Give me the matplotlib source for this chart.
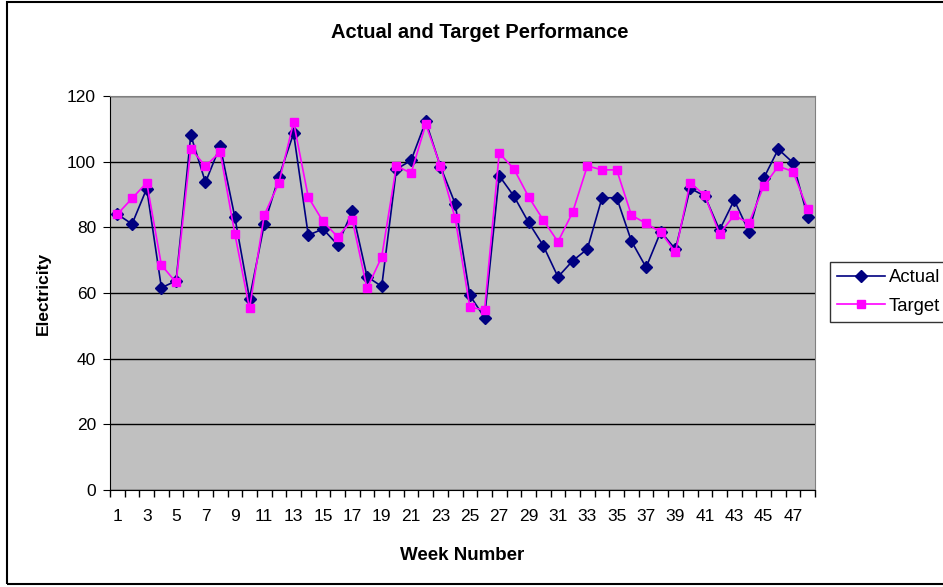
import matplotlib.pyplot as plt
from matplotlib.patches import Rectangle
import numpy as np

plt.rcParams['font.family'] = ['Liberation Sans', 'DejaVu Sans']

weeks = list(range(1, 49))
actual = [84, 81, 91.8, 61.6, 63.7, 108.1, 93.7, 104.8, 83.1, 58.3,
          80.9, 95.4, 108.6, 77.6, 79.5, 74.7, 85, 65, 62, 97.7,
          100.4, 112.3, 98.5, 87.2, 59.3, 52.5, 95.7, 89.5, 81.5, 74.4,
          64.9, 69.8, 73.4, 89, 89, 75.8, 67.8, 78.7, 73.3, 91.9,
          89.5, 79.2, 88.3, 78.7, 94.9, 103.8, 99.7, 83.2]
target = [84, 88.8, 93.6, 68.5, 63.2, 104, 98.6, 103, 78, 55.3,
          83.7, 93.6, 112, 89.2, 81.8, 77.1, 82.2, 61.4, 71, 98.7,
          96.5, 111.4, 98.7, 82.8, 55.7, 54.8, 102.6, 97.8, 89.3, 82.2,
          75.6, 84.6, 98.7, 97.5, 97.5, 83.7, 81.2, 78.5, 72.4, 93.6,
          89.7, 78, 83.7, 81.2, 92.5, 98.6, 97, 85.5]

fig = plt.figure(figsize=(9.43, 5.87), dpi=100)
ax = fig.add_axes([110/943, 1 - 490/587, 705/943, 394/587])
ax.set_facecolor('#C0C0C0')

ax.plot(weeks, actual, color='#000080', lw=1.2, marker='D', ms=6,
        mfc='#000080', mec='#000080', label='Actual', zorder=3)
ax.plot(weeks, target, color='#FF00FF', lw=1.2, marker='s', ms=5.5,
        mfc='#FF00FF', mec='#FF00FF', label='Target', zorder=4)

ax.set_xlim(0.5, 48.5)
ax.set_ylim(0, 120)
ax.set_yticks(range(0, 121, 20))
ax.yaxis.grid(True, color='black', lw=1)
ax.set_axisbelow(True)

ax.set_xticks(np.arange(0.5, 49, 1), minor=True)
ax.set_xticks(weeks[::2])
ax.set_xticklabels([str(w) for w in weeks[::2]])
ax.tick_params(axis='x', which='major', length=0, labelsize=12.5, pad=14)
ax.tick_params(axis='x', which='minor', length=5, width=1, color='black')
ax.tick_params(axis='y', length=5, labelsize=12.5, pad=5)

for side in ['top', 'right']:
    ax.spines[side].set_color('#808080')
for side in ['left', 'bottom']:
    ax.spines[side].set_color('black')

ax.set_xlabel('Week Number', fontsize=13.5, fontweight='bold', labelpad=16)
ax.set_ylabel('Electricity', fontsize=12.5, fontweight='bold', labelpad=12)
fig.text(480/943, 1 - 33/587, 'Actual and Target Performance',
         ha='center', va='center', fontsize=14.5, fontweight='bold')

leg = fig.legend(loc='center left', bbox_to_anchor=(830/943, 1 - 292/587),
                 fontsize=13.3, frameon=True, fancybox=False, edgecolor='black',
                 borderpad=0.4, handlelength=2.6, labelspacing=0.6,
                 handletextpad=0.2, borderaxespad=0)
leg.get_frame().set_linewidth(1)

fig.patches.append(Rectangle((7/943, 3/587), 950/943, 582/587, transform=fig.transFigure,
                             fill=False, edgecolor='black', lw=1.5))

fig.savefig('out.png', dpi=100)
